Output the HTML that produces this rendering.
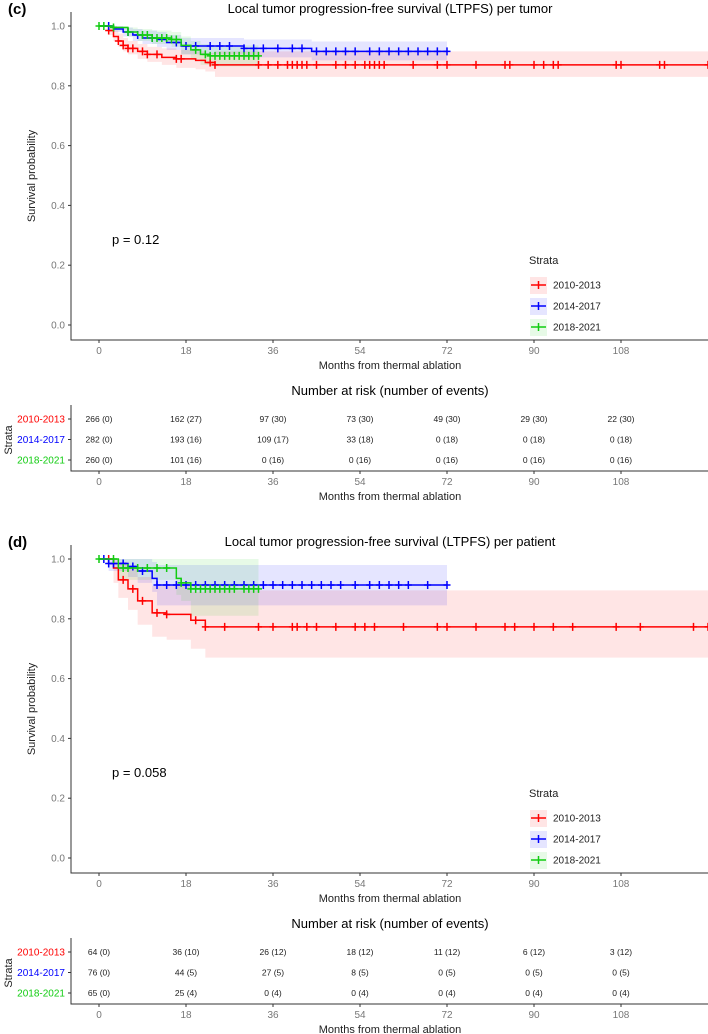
<!DOCTYPE html>
<html><head><meta charset="utf-8"><style>
body{margin:0;background:#fff}
svg{display:block;font-family:"Liberation Sans",Arial,sans-serif}
</style></head><body>
<svg id="s" width="708" height="1034" viewBox="0 0 708 1034"></svg>
<script>
// ---- data ----
const strata = ["2010-2013","2014-2017","2018-2021"];
const colors = ["#FF0000","#0000FF","#11CC11"];
const xTicks = [0,18,36,54,72,90,108];
const yTicks = [0,0.2,0.4,0.6,0.8,1.0];
// panel c steps: [time, surv]
const cRedT=[0,2,3,4,5,6,8,10,13,16,20,22,24,126];
const cRedS=[1,0.985,0.965,0.95,0.935,0.925,0.915,0.905,0.895,0.89,0.885,0.878,0.87,0.87];
const cRedLo=[1,0.97,0.95,0.93,0.915,0.905,0.89,0.88,0.87,0.86,0.855,0.848,0.83,0.83];
const cRedHi=[1,1,0.985,0.975,0.96,0.95,0.94,0.93,0.925,0.92,0.915,0.91,0.915,0.915];
const cBlueT=[0,3,5,7,9,12,14,17,30,44,72];
const cBlueS=[1,0.99,0.98,0.97,0.96,0.955,0.945,0.933,0.925,0.915,0.915];
const cBlueLo=[1,0.98,0.965,0.95,0.94,0.93,0.92,0.905,0.895,0.885,0.885];
const cBlueHi=[1,1,0.995,0.99,0.985,0.98,0.97,0.96,0.955,0.948,0.948];
const cGreenT=[0,3,6,8,11,15,17,19,21,23,33];
const cGreenS=[1,0.995,0.98,0.97,0.96,0.955,0.935,0.92,0.905,0.9,0.9];
const cGreenLo=[1,0.985,0.965,0.95,0.94,0.93,0.905,0.89,0.87,0.865,0.865];
const cGreenHi=[1,1,0.995,0.99,0.985,0.98,0.965,0.95,0.94,0.935,0.935];
const cRedC=[2,4,5,6,7,9,10,12,16,17,23,24,33,35,37,39,40,41,42,43,45,49,51,53,55,56,57,58,59,65,70,72,78,84,85,90,92,94,95,107,108,116,117,126];
const cBlueC=[2,6,8,11,16,18,20,23,25,27,30,32,34,37,40,42,45,47,49,51,53,56,58,60,62,64,66,68,70,72];
const cGreenC=[0,1,3,6,9,10,11,12,13,14,15,16,20,22,23,24,25,26,27,28,29,30,31,32,33];
// panel d steps
const dRedT=[0,3,4,6,8,11,14,19,22,126];
const dRedS=[1,0.97,0.93,0.9,0.86,0.82,0.815,0.795,0.773,0.773];
const dRedLo=[1,0.92,0.87,0.83,0.78,0.74,0.73,0.7,0.67,0.67];
const dRedHi=[1,1,0.99,0.97,0.94,0.91,0.91,0.89,0.895,0.895];
const dBlueT=[0,2,6,8,11,12,72];
const dBlueS=[1,0.985,0.975,0.96,0.935,0.913,0.913];
const dBlueLo=[1,0.96,0.94,0.92,0.89,0.845,0.845];
const dBlueHi=[1,1,1,1,0.99,0.98,0.98];
const dGreenT=[0,4,16,17,19,33];
const dGreenS=[1,0.97,0.935,0.92,0.9,0.9];
const dGreenLo=[1,0.93,0.88,0.86,0.81,0.81];
const dGreenHi=[1,1,1,1,1,1];
const dRedC=[2,5,7,9,12,14,20,22,26,33,36,40,41,43,45,49,53,55,57,63,70,72,78,84,86,90,94,98,107,112,123,126];
const dBlueC=[1,2,3,5,7,9,12,14,16,18,20,22,24,26,28,30,32,34,36,38,40,42,44,46,48,50,53,56,58,60,62,64,68,72];
const dGreenC=[0,3,5,6,8,10,12,14,17,19,20,21,22,23,24,25,26,27,28,30,31,32,33];
// risk tables
const cRisk=[["266 (0)","162 (27)","97 (30)","73 (30)","49 (30)","29 (30)","22 (30)"],
             ["282 (0)","193 (16)","109 (17)","33 (18)","0 (18)","0 (18)","0 (18)"],
             ["260 (0)","101 (16)","0 (16)","0 (16)","0 (16)","0 (16)","0 (16)"]];
const dRisk=[["64 (0)","36 (10)","26 (12)","18 (12)","11 (12)","6 (12)","3 (12)"],
             ["76 (0)","44 (5)","27 (5)","8 (5)","0 (5)","0 (5)","0 (5)"],
             ["65 (0)","25 (4)","0 (4)","0 (4)","0 (4)","0 (4)","0 (4)"]];

const S=document.getElementById('s');const NS="http://www.w3.org/2000/svg";
function el(t,a,txt){const e=document.createElementNS(NS,t);for(const k in a)e.setAttribute(k,a[k]);if(txt!==undefined)e.textContent=txt;S.appendChild(e);return e;}
const X=m=>99+m*87/18;

function panel(off,label,title,pval,series,risk){
  const Y=v=>off+325-v*299;
  let e;
  e=el('text',{x:8,y:off+14,'font-size':15,'font-weight':'bold'},label);
  
  e=el('text',{x:390,y:off+13,'font-size':13,'text-anchor':'middle'},title);
  
  // bands
  series.forEach((s,i)=>{
    let up='',lo=[];
    for(let k=0;k<s.t.length;k++){const x0=X(s.t[k]),x1=X(k<s.t.length-1?s.t[k+1]:s.t[k]);
      up+=`${x0},${Y(s.hi[k])} ${x1},${Y(s.hi[k])} `;lo.unshift(`${x1},${Y(s.lo[k])} ${x0},${Y(s.lo[k])}`);}
    e=el('polygon',{points:up+lo.join(' '),fill:colors[i],'fill-opacity':0.1});
    
  });
  series.forEach((s,i)=>{
    let d=`M${X(s.t[0])},${Y(s.s[0])}`;
    for(let k=1;k<s.t.length;k++)d+=`H${X(s.t[k])}V${Y(s.s[k])}`;
    e=el('path',{d:d,fill:'none',stroke:colors[i],'stroke-width':1.5});
    
    s.c.forEach(c=>{let k=0;while(k+1<s.t.length&&s.t[k+1]<=c)k++;const x=X(c),y=Y(s.s[k]);
      e=el('path',{d:`M${x-3.5},${y}H${x+3.5}M${x},${y-4}V${y+4}`,stroke:colors[i],'stroke-width':1.5});
      });
  });
  // axes
  e=el('path',{d:`M71,${off+12}V${off+340}H708`,stroke:'#333',fill:'none','stroke-width':1});
  
  yTicks.forEach(v=>{el('path',{d:`M68,${Y(v)}H71`,stroke:'#333'});
    e=el('text',{x:65,y:Y(v)+3.5,'font-size':10,fill:'#777','text-anchor':'end'},v.toFixed(1));
    });
  xTicks.forEach(v=>{el('path',{d:`M${X(v)},${off+340}V${off+343}`,stroke:'#333'});
    e=el('text',{x:X(v),y:off+354,'font-size':10,fill:'#777','text-anchor':'middle'},v);
    });
  e=el('text',{x:390,y:off+369,'font-size':11,'text-anchor':'middle',fill:'#222'},'Months from thermal ablation');
  
  e=el('text',{x:0,y:0,'font-size':11,'text-anchor':'middle',fill:'#222',transform:`translate(35,${off+176}) rotate(-90)`},'Survival probability');
  
  e=el('text',{x:112,y:off+244,'font-size':13},pval);
  
  // legend
  e=el('text',{x:529,y:off+264,'font-size':11,fill:'#222'},'Strata');
  
  strata.forEach((n,i)=>{const y=off+285+i*21;
    el('rect',{x:530,y:y-8,width:17,height:17,fill:colors[i],'fill-opacity':0.1});
    el('path',{d:`M531,${y}H546M538.5,${y-4}V${y+4}`,stroke:colors[i],'stroke-width':1.5});
    e=el('text',{x:553,y:y+3.5,'font-size':10,fill:'#222'},n);
    });
  // risk table
  e=el('text',{x:390,y:off+395,'font-size':13,'text-anchor':'middle'},'Number at risk (number of events)');
  
  el('path',{d:`M71,${off+405}V${off+471}H708`,stroke:'#333',fill:'none'});
  risk.forEach((row,i)=>{const y=off+419+i*20.5;
    el('path',{d:`M68,${y}H71`,stroke:'#333'});
    e=el('text',{x:65,y:y+3.5,'font-size':10,fill:colors[i],'text-anchor':'end'},strata[i]);
    
    row.forEach((v,j)=>{e=el('text',{x:X(xTicks[j]),y:y+3,'font-size':8.5,fill:'#222','text-anchor':'middle'},v);
      });
  });
  e=el('text',{x:0,y:0,'font-size':11,'text-anchor':'middle',fill:'#222',transform:`translate(12,${off+440}) rotate(-90)`},'Strata');
  
  xTicks.forEach(v=>{el('path',{d:`M${X(v)},${off+471}V${off+474}`,stroke:'#333'});
    e=el('text',{x:X(v),y:off+485,'font-size':10,fill:'#777','text-anchor':'middle'},v);
    });
  e=el('text',{x:390,y:off+500,'font-size':11,'text-anchor':'middle',fill:'#222'},'Months from thermal ablation');
  
}
panel(0,'(c)','Local tumor progression-free survival (LTPFS) per tumor','p = 0.12',[
 {t:cRedT,s:cRedS,lo:cRedLo,hi:cRedHi,c:cRedC},
 {t:cBlueT,s:cBlueS,lo:cBlueLo,hi:cBlueHi,c:cBlueC},
 {t:cGreenT,s:cGreenS,lo:cGreenLo,hi:cGreenHi,c:cGreenC}],cRisk);
panel(533,'(d)','Local tumor progression-free survival (LTPFS) per patient','p = 0.058',[
 {t:dRedT,s:dRedS,lo:dRedLo,hi:dRedHi,c:dRedC},
 {t:dBlueT,s:dBlueS,lo:dBlueLo,hi:dBlueHi,c:dBlueC},
 {t:dGreenT,s:dGreenS,lo:dGreenLo,hi:dGreenHi,c:dGreenC}],dRisk);
</script>
</body></html>
